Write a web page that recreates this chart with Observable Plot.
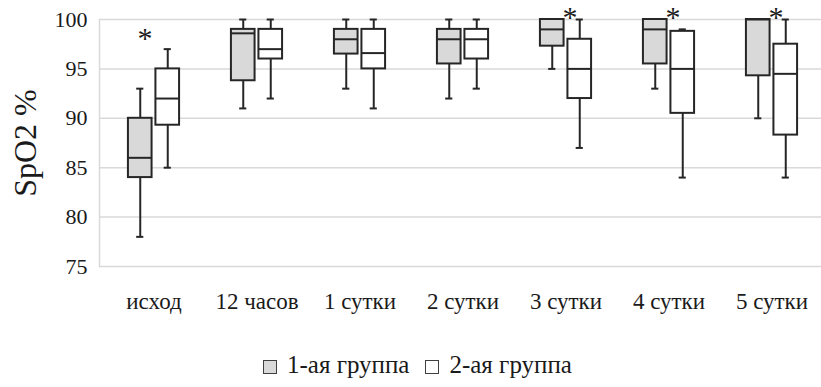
<!DOCTYPE html>
<html>
<head>
<meta charset="utf-8">
<script src="https://cdn.jsdelivr.net/npm/d3@7"></script>
<script src="https://cdn.jsdelivr.net/npm/@observablehq/plot@0.6"></script>
<style>
  body { margin: 0; background: #fff; font-family: "Liberation Serif", "Times New Roman", serif; }
  #chart { position: relative; width: 821px; height: 387px; }
  .legend { position: absolute; top: 351px; left: 263px; display: flex; align-items: center;
            font-size: 25px; color: #1a1a1a; white-space: nowrap; }
  .legend .item { display: flex; align-items: center; margin-right: 16px; }
  .legend .sw { width: 12px; height: 12px; border: 1.5px solid #404040; margin-right: 10px; margin-top: 4px; }
</style>
</head>
<body>
<div id="chart"></div>
<script>
// Time points of the observation
const categories = ["исход", "12 часов", "1 сутки", "2 сутки", "3 сутки", "4 сутки", "5 сутки"];
const groups = ["1-ая группа", "2-ая группа"];
const groupFill = ["#d9d9d9", "#ffffff"];
const yTicks = [75, 80, 85, 90, 95, 100];

// SpO2 distribution, group 1: whisker low, Q1, median, Q3, whisker high
const g1Min = [78, 91, 93, 92, 95, 93, 90];
const g1Q1  = [84, 93.8, 96.5, 95.5, 97.3, 95.5, 94.3];
const g1Med = [86, 98.6, 98, 98, 99, 99, 100];
const g1Q3  = [90, 99, 99, 99, 100, 100, 100];
const g1Max = [93, 100, 100, 100, 100, 100, 100];

// SpO2 distribution, group 2
const g2Min = [85, 92, 91, 93, 87, 84, 84];
const g2Q1  = [89.3, 96, 95, 96, 92, 90.5, 88.3];
const g2Med = [92, 97, 96.6, 98, 95, 95, 94.5];
const g2Q3  = [95, 99, 99, 99, 98, 98.8, 97.5];
const g2Max = [97, 100, 100, 100, 100, 99, 100];

// Significant differences (*): time point, marker level, group it sits over
const sigCategory = ["исход", "3 сутки", "4 сутки", "5 сутки"];
const sigLevel = [98.5, 100.6, 100.6, 100.6];
const sigGroup = [1, 2, 2, 2];

const font = '"Liberation Serif", "Times New Roman", serif';
const ink = "#262626";
const textInk = "#1a1a1a";

const W = 821, H = 330;
const xLeft = 99, xRight = 826;            // category band extends past the right edge
const step = (xRight - xLeft) / categories.length;
const half = step / 2;
const BOX = 24.5, GAP = 3, CAP = 8;

const series = [
  {min: g1Min, q1: g1Q1, med: g1Med, q3: g1Q3, max: g1Max},
  {min: g2Min, q1: g2Q1, med: g2Med, q3: g2Q3, max: g2Max}
];

function boxMarks(s, gi) {
  const rows = categories.map((c, i) => ({cat: c, min: s.min[i], q1: s.q1[i], med: s.med[i], q3: s.q3[i], max: s.max[i]}));
  const offset = (gi === 0 ? -1 : 1) * (BOX + GAP) / 2;
  const boxInset = {insetLeft: half + offset - BOX / 2, insetRight: half - offset - BOX / 2};
  const capInset = {insetLeft: half + offset - CAP / 2, insetRight: half - offset - CAP / 2};
  return [
    Plot.ruleX(rows, {x: "cat", y1: "min", y2: "q1", dx: offset, stroke: ink, strokeWidth: 2}),
    Plot.ruleX(rows, {x: "cat", y1: "q3", y2: "max", dx: offset, stroke: ink, strokeWidth: 2}),
    Plot.tickY(rows, {x: "cat", y: "min", ...capInset, stroke: ink, strokeWidth: 2}),
    Plot.tickY(rows, {x: "cat", y: "max", ...capInset, stroke: ink, strokeWidth: 2}),
    Plot.barY(rows, {x: "cat", y1: "q1", y2: "q3", ...boxInset, fill: groupFill[gi], stroke: ink, strokeWidth: 2}),
    Plot.tickY(rows, {x: "cat", y: "med", ...boxInset, stroke: ink, strokeWidth: 2})
  ];
}

const sigRows = sigCategory.map((c, i) => ({cat: c, y: sigLevel[i], g: sigGroup[i]}));

const chart = Plot.plot({
  width: W,
  height: H,
  marginTop: 19,
  marginLeft: xLeft,
  marginRight: 0,
  marginBottom: H - 266,
  style: {fontFamily: font, fontSize: "22px", color: textInk, background: "transparent", overflow: "visible"},
  x: {domain: categories, range: [xLeft, xRight], padding: 0, label: null},
  y: {domain: [75, 100], label: null},
  marks: [
    Plot.gridY(yTicks, {stroke: "#d9d9d9", strokeOpacity: 1, strokeWidth: 1.5}),
    Plot.frame({anchor: "left", stroke: "#d9d9d9", strokeWidth: 1.5}),
    Plot.axisY(yTicks, {tickSize: 0, tickPadding: 12, fontSize: 22, fontFamily: font, fill: textInk, label: null}),
    Plot.axisX({tickSize: 0, tickPadding: 26, fontSize: 23, fontFamily: font, fill: textInk, label: null}),
    Plot.text(["SpO2 %"], {frameAnchor: "left", textAnchor: "middle", rotate: -90, dx: -74, fontSize: 32, fontFamily: font, fill: textInk}),
    ...boxMarks(series[0], 0),
    ...boxMarks(series[1], 1),
    Plot.text(sigRows.filter(d => d.g === 1), {x: "cat", y: "y", text: () => "*", dx: -9, dy: 4, fontSize: 30, fontFamily: font, fill: textInk}),
    Plot.text(sigRows.filter(d => d.g === 2), {x: "cat", y: "y", text: () => "*", dx: 4, dy: 4, fontSize: 30, fontFamily: font, fill: textInk})
  ]
});

const root = document.getElementById("chart");
root.appendChild(chart);

const legend = document.createElement("div");
legend.className = "legend";
groups.forEach((g, i) => {
  const item = document.createElement("div");
  item.className = "item";
  const sw = document.createElement("span");
  sw.className = "sw";
  sw.style.background = groupFill[i];
  const label = document.createElement("span");
  label.textContent = g;
  item.appendChild(sw);
  item.appendChild(label);
  legend.appendChild(item);
});
root.appendChild(legend);
</script>
</body>
</html>
